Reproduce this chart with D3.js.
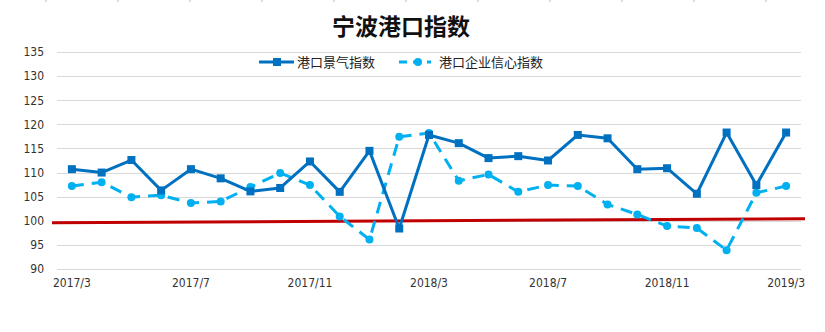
<!DOCTYPE html>
<html>
<head>
<meta charset="utf-8">
<script src="https://cdn.jsdelivr.net/npm/d3@7/dist/d3.min.js"></script>
<style>
  html, body { margin: 0; padding: 0; background: #fff; }
  svg { display: block; }
  .tick text { font-family: "Liberation Sans Narrow", "DejaVu Sans Condensed", "Liberation Sans", sans-serif; font-size: 12px; fill: #333; }
</style>
</head>
<body>
<svg id="chart" width="825" height="332"></svg>
<script>
// Monthly categories, 2017/3 – 2019/3
const months = [
  "2017/3","2017/4","2017/5","2017/6","2017/7","2017/8","2017/9","2017/10","2017/11","2017/12",
  "2018/1","2018/2","2018/3","2018/4","2018/5","2018/6","2018/7","2018/8","2018/9","2018/10",
  "2018/11","2018/12","2019/1","2019/2","2019/3"
];
const xTickLabels = ["2017/3","2017/7","2017/11","2018/3","2018/7","2018/11","2019/3"];
const yTicks = [90, 95, 100, 105, 110, 115, 120, 125, 130, 135];

// 港口景气指数
const prosperityIndex = [
  110.7, 110.0, 112.6, 106.3, 110.7, 108.8, 106.1, 106.8, 112.3, 106.0,
  114.5, 98.4, 117.8, 116.1, 113.0, 113.4, 112.5, 117.8, 117.1, 110.7,
  110.9, 105.6, 118.3, 107.4, 118.3
];
// 港口企业信心指数
const confidenceIndex = [
  107.2, 108.0, 104.9, 105.3, 103.7, 104.0, 107.0, 109.9, 107.4, 100.9,
  96.1, 117.4, 118.2, 108.3, 109.6, 106.0, 107.4, 107.2, 103.4, 101.3,
  98.9, 98.5, 93.9, 105.8, 107.2
];
// 荣枯线 (left end, right end)
const baseline = [99.6, 100.4];

const svg = d3.select("#chart");
const plot = { left: 57, right: 801, top: 52, bottom: 269 };

const x = d3.scaleBand().domain(months).range([plot.left, plot.right]).padding(0);
const cx = d => x(d) + x.bandwidth() / 2;
const y = d3.scaleLinear().domain([90, 135]).range([plot.bottom, plot.top]);

// faint sheet column marks along the top edge
svg.append("g").selectAll("line")
  .data(d3.range(11))
  .join("line")
  .attr("x1", i => 46 + i * 72).attr("x2", i => 46 + i * 72)
  .attr("y1", 0).attr("y2", 2)
  .attr("stroke", "#bbb").attr("stroke-width", 1);

// title
svg.append("text")
  .attr("x", 401).attr("y", 35)
  .attr("text-anchor", "middle")
  .attr("font-family", "'Noto Sans CJK SC', sans-serif")
  .attr("font-weight", "bold")
  .attr("font-size", 23)
  .attr("fill", "#111")
  .text("宁波港口指数");

// y axis with gridlines
const yAxis = svg.append("g")
  .attr("transform", `translate(${plot.left},0)`)
  .call(d3.axisLeft(y).tickValues(yTicks).tickSize(-(plot.right - plot.left)).tickPadding(13));
yAxis.select(".domain").remove();
yAxis.selectAll(".tick line").attr("stroke", "#d9d9d9").attr("stroke-width", 1).attr("shape-rendering", "crispEdges");

// x axis labels
const xAxis = svg.append("g")
  .attr("transform", `translate(0,${plot.bottom})`)
  .call(d3.axisBottom(x).tickValues(xTickLabels).tickSize(0).tickPadding(9));
xAxis.select(".domain").remove();

// baseline
svg.append("line")
  .attr("x1", plot.left - 5).attr("x2", plot.right + 4)
  .attr("y1", y(baseline[0])).attr("y2", y(baseline[1]))
  .attr("stroke", "#C00000").attr("stroke-width", 3);

const line = d3.line().x((d, i) => cx(months[i])).y(d => y(d));

// 港口企业信心指数 (dashed, circles)
svg.append("path")
  .datum(confidenceIndex)
  .attr("d", line)
  .attr("fill", "none")
  .attr("stroke", "#00B0F0")
  .attr("stroke-width", 3)
  .attr("stroke-dasharray", "12,8");
svg.append("g").selectAll("circle")
  .data(confidenceIndex)
  .join("circle")
  .attr("cx", (d, i) => cx(months[i]))
  .attr("cy", d => y(d))
  .attr("r", 4)
  .attr("fill", "#00B0F0");

// 港口景气指数 (solid, squares)
svg.append("path")
  .datum(prosperityIndex)
  .attr("d", line)
  .attr("fill", "none")
  .attr("stroke", "#0070C0")
  .attr("stroke-width", 3)
  .attr("stroke-linejoin", "round");
svg.append("g").selectAll("rect")
  .data(prosperityIndex)
  .join("rect")
  .attr("x", (d, i) => cx(months[i]) - 4)
  .attr("y", d => y(d) - 4)
  .attr("width", 8).attr("height", 8)
  .attr("fill", "#0070C0");

// legend
const legend = svg.append("g").attr("font-family", "'Noto Sans CJK SC', sans-serif").attr("font-size", 13).attr("fill", "#222");
const ly = 62;
legend.append("line").attr("x1", 259).attr("x2", 294).attr("y1", ly).attr("y2", ly)
  .attr("stroke", "#0070C0").attr("stroke-width", 3);
legend.append("rect").attr("x", 273).attr("y", ly - 4).attr("width", 8).attr("height", 8).attr("fill", "#0070C0");
legend.append("text").attr("x", 297).attr("y", ly).attr("dy", "0.36em").text("港口景气指数");

legend.append("line").attr("x1", 399).attr("x2", 431).attr("y1", ly).attr("y2", ly)
  .attr("stroke", "#00B0F0").attr("stroke-width", 3).attr("stroke-dasharray", "8,6");
legend.append("circle").attr("cx", 418).attr("cy", ly).attr("r", 4).attr("fill", "#00B0F0");
legend.append("text").attr("x", 439).attr("y", ly).attr("dy", "0.36em").text("港口企业信心指数");
</script>
</body>
</html>
